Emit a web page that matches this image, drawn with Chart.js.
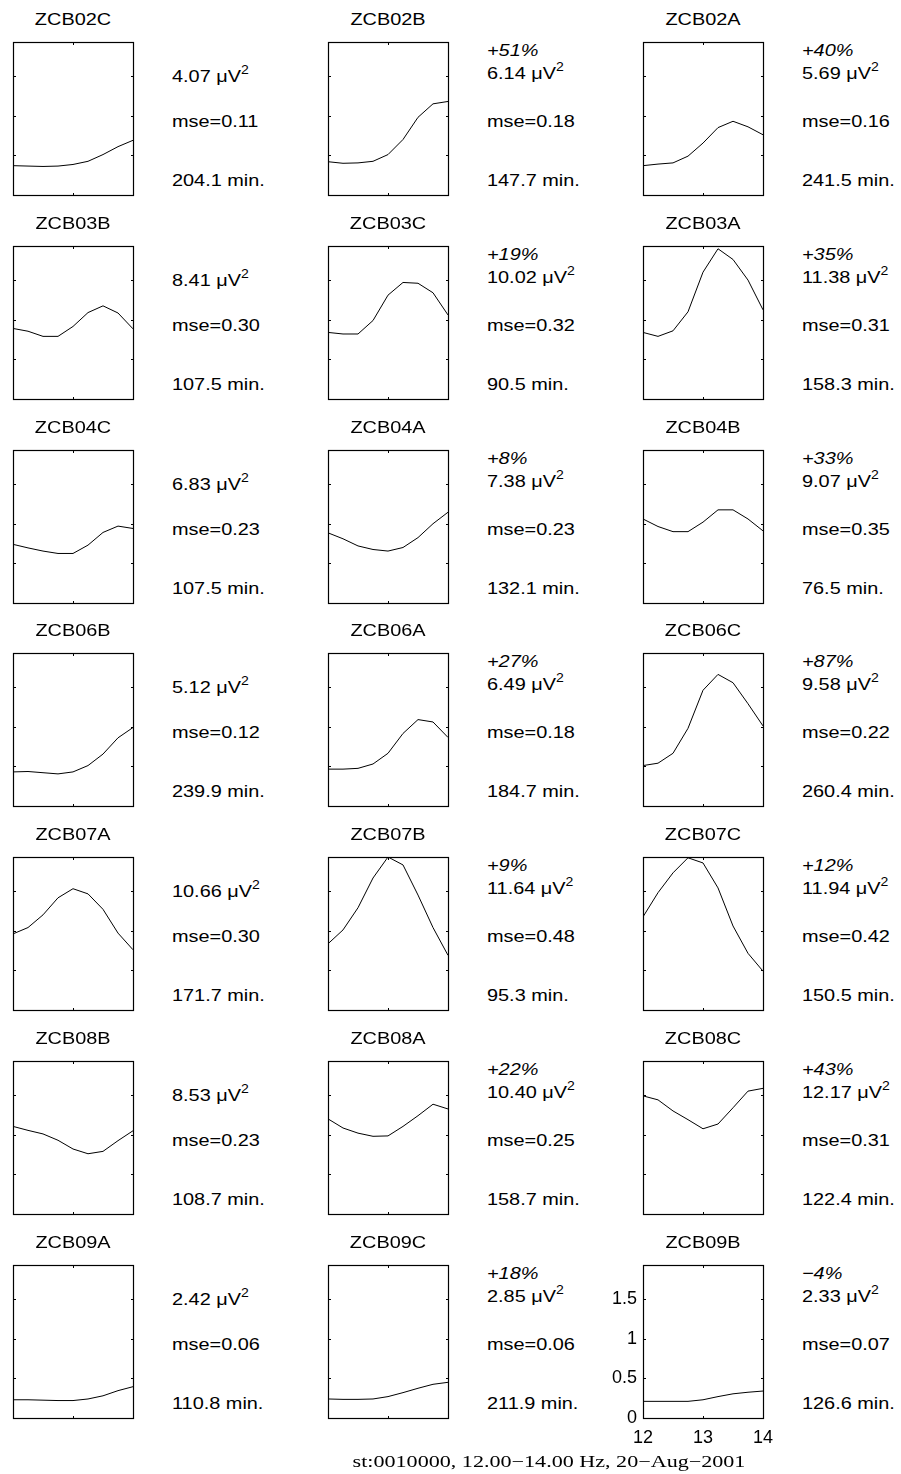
<!DOCTYPE html>
<html>
<head>
<meta charset="utf-8">
<script src="https://cdn.jsdelivr.net/npm/chart.js@4.4.1/dist/chart.umd.min.js"></script>
<style>
  body { margin: 0; background: #fff; }
  #page { position: relative; width: 901px; height: 1474px; overflow: hidden; background: #fff; }
  canvas.panel { position: absolute; }
  .lbl { position: absolute; white-space: nowrap; color: #000; line-height: 1; font-family: "Liberation Sans", Arial, Helvetica, sans-serif; }
  .sup { position: relative; font-size: 12px; top: -8px; }
</style>
</head>
<body>
<div id="page"></div>
<script>
// frequency bins (Hz)
const freqs = [12, 12.25, 12.5, 12.75, 13, 13.25, 13.5, 13.75, 14];

// spectra per recording, read row by row
const zcb02c = [0.37, 0.365, 0.36, 0.365, 0.385, 0.425, 0.51, 0.61, 0.69];
const zcb02b = [0.42, 0.40, 0.405, 0.425, 0.51, 0.70, 0.98, 1.15, 1.18];
const zcb02a = [0.37, 0.39, 0.405, 0.49, 0.655, 0.85, 0.93, 0.86, 0.76];
const zcb03b = [0.89, 0.855, 0.79, 0.79, 0.915, 1.09, 1.175, 1.085, 0.885];
const zcb03c = [0.84, 0.82, 0.82, 0.99, 1.31, 1.47, 1.46, 1.34, 1.06];
const zcb03a = [0.84, 0.79, 0.86, 1.10, 1.60, 1.895, 1.76, 1.50, 1.125];
const zcb04c = [0.74, 0.695, 0.655, 0.625, 0.625, 0.73, 0.89, 0.97, 0.94];
const zcb04a = [0.885, 0.81, 0.72, 0.675, 0.655, 0.70, 0.825, 1.00, 1.145];
const zcb04b = [1.06, 0.965, 0.90, 0.90, 1.02, 1.175, 1.175, 1.06, 0.91];
const zcb06b = [0.43, 0.435, 0.42, 0.405, 0.43, 0.51, 0.655, 0.86, 0.99];
const zcb06a = [0.465, 0.465, 0.475, 0.53, 0.665, 0.915, 1.09, 1.06, 0.865];
const zcb06c = [0.51, 0.54, 0.665, 0.98, 1.46, 1.66, 1.555, 1.29, 1.01];
const zcb07a = [0.96, 1.04, 1.20, 1.415, 1.53, 1.465, 1.27, 0.97, 0.76];
const zcb07b = [0.835, 1.01, 1.29, 1.665, 1.93, 1.83, 1.45, 1.04, 0.69];
const zcb07c = [1.175, 1.48, 1.73, 1.92, 1.855, 1.54, 1.06, 0.715, 0.49];
const zcb08b = [1.105, 1.055, 1.01, 0.93, 0.82, 0.76, 0.79, 0.925, 1.05];
const zcb08a = [1.20, 1.085, 1.02, 0.98, 0.985, 1.105, 1.24, 1.385, 1.325];
const zcb08c = [1.49, 1.44, 1.30, 1.19, 1.075, 1.135, 1.34, 1.55, 1.585];
const zcb09a = [0.23, 0.23, 0.225, 0.22, 0.22, 0.24, 0.28, 0.345, 0.395];
const zcb09c = [0.24, 0.235, 0.235, 0.24, 0.27, 0.32, 0.375, 0.425, 0.45];
const zcb09b = [0.21, 0.21, 0.21, 0.21, 0.23, 0.27, 0.305, 0.325, 0.34];

const names = ["ZCB02C", "ZCB02B", "ZCB02A", "ZCB03B", "ZCB03C", "ZCB03A",
               "ZCB04C", "ZCB04A", "ZCB04B", "ZCB06B", "ZCB06A", "ZCB06C",
               "ZCB07A", "ZCB07B", "ZCB07C", "ZCB08B", "ZCB08A", "ZCB08C",
               "ZCB09A", "ZCB09C", "ZCB09B"];
const spectra = [zcb02c, zcb02b, zcb02a, zcb03b, zcb03c, zcb03a,
                 zcb04c, zcb04a, zcb04b, zcb06b, zcb06a, zcb06c,
                 zcb07a, zcb07b, zcb07c, zcb08b, zcb08a, zcb08c,
                 zcb09a, zcb09c, zcb09b];
const powers = ["4.07", "6.14", "5.69", "8.41", "10.02", "11.38",
                "6.83", "7.38", "9.07", "5.12", "6.49", "9.58",
                "10.66", "11.64", "11.94", "8.53", "10.40", "12.17",
                "2.42", "2.85", "2.33"];
const changes = ["", "+51%", "+40%", "", "+19%", "+35%",
                 "", "+8%", "+33%", "", "+27%", "+87%",
                 "", "+9%", "+12%", "", "+22%", "+43%",
                 "", "+18%", "\u22124%"];
const mse = ["0.11", "0.18", "0.16", "0.30", "0.32", "0.31",
             "0.23", "0.23", "0.35", "0.12", "0.18", "0.22",
             "0.30", "0.48", "0.42", "0.23", "0.25", "0.31",
             "0.06", "0.06", "0.07"];
const durations = ["204.1", "147.7", "241.5", "107.5", "90.5", "158.3",
                   "107.5", "132.1", "76.5", "239.9", "184.7", "260.4",
                   "171.7", "95.3", "150.5", "108.7", "158.7", "122.4",
                   "110.8", "211.9", "126.6"];
const yTicks = [0, 0.5, 1, 1.5];
const xTicks = [12, 13, 14];
const yMax = 1.93;
const caption = "st:0010000, 12.00\u221214.00 Hz, 20\u2212Aug\u22122001";

// layout of the grid
const colLeft = [13, 328, 643];
const rowTop = [42, 246, 450, 653, 857, 1061, 1265];
const boxW = 120, boxH = 153;
const axisW = 48, axisH = 36, padR = 16;
const stretch = 1.17;

const page = document.getElementById("page");

// box outline plus small inward ticks, MATLAB style
const boxPlugin = {
  id: "box",
  afterDatasetsDraw(chart) {
    const { ctx, chartArea: a, scales } = chart;
    ctx.save();
    ctx.strokeStyle = "#000";
    ctx.lineWidth = 1;
    ctx.beginPath();
    const L = a.left + 0.5, R = a.right + 0.5, T = a.top + 0.5, B = a.bottom + 0.5;
    scales.y.ticks.forEach(t => {
      if (t.value <= 0 || t.value >= yMax) return;
      const y = Math.round(scales.y.getPixelForValue(t.value)) + 0.5;
      ctx.moveTo(L, y); ctx.lineTo(L + 2.5, y);
      ctx.moveTo(R, y); ctx.lineTo(R - 2.5, y);
    });
    scales.x.ticks.forEach(t => {
      if (t.value <= 12 || t.value >= 14) return;
      const x = Math.round(scales.x.getPixelForValue(t.value)) + 0.5;
      ctx.moveTo(x, T); ctx.lineTo(x, T + 2.5);
      ctx.moveTo(x, B); ctx.lineTo(x, B - 2.5);
    });
    ctx.stroke();
    ctx.lineWidth = 1.2;
    ctx.strokeRect(L, T, a.right - a.left, a.bottom - a.top);
    ctx.restore();
  }
};

// fixed axis sizes so every panel box lands on the same grid
function fixSize(s, w, h) {
  if (w !== null) s.width = w;
  if (h !== null) s.height = h;
  s.paddingLeft = 0; s.paddingRight = 0; s.paddingTop = 0; s.paddingBottom = 0;
}

function addText(html, x, baseline, opts) {
  const size = opts.size || 17;
  const el = document.createElement("div");
  el.className = "lbl";
  el.innerHTML = html;
  el.style.fontSize = size + "px";
  if (opts.family) el.style.fontFamily = opts.family;
  if (opts.italic) el.style.fontStyle = "italic";
  const asc = opts.asc || 0.8465;
  el.style.top = (baseline - asc * size) + "px";
  const sx = opts.stretch || stretch;
  if (opts.center) {
    el.style.left = (x - 200) + "px";
    el.style.width = "400px";
    el.style.textAlign = "center";
    el.style.transformOrigin = "50% 0";
  } else {
    el.style.left = x + "px";
    el.style.transformOrigin = "0 0";
  }
  el.style.transform = "scaleX(" + sx + ")";
  page.appendChild(el);
}

names.forEach((name, i) => {
  const row = Math.floor(i / 3), col = i % 3;
  const left = colLeft[col], top = rowTop[row];
  const showTicks = i === names.length - 1;

  const cv = document.createElement("canvas");
  cv.className = "panel";
  cv.width = axisW + boxW + padR;
  cv.height = 2 + boxH + axisH;
  cv.style.left = (left - axisW) + "px";
  cv.style.top = (top - 2) + "px";
  page.appendChild(cv);

  const tickFont = { family: "'Liberation Sans', Arial, sans-serif", size: 18 };

  new Chart(cv, {
    type: "line",
    data: {
      datasets: [{
        data: freqs.map((f, k) => ({ x: f, y: spectra[i][k] })),
        borderColor: "#000",
        borderWidth: 1,
        pointRadius: 0,
        tension: 0,
        fill: false
      }]
    },
    options: {
      animation: false,
      responsive: false,
      devicePixelRatio: 1,
      layout: { padding: { top: 2, right: padR, left: 0, bottom: 0 } },
      plugins: { legend: { display: false }, tooltip: { enabled: false } },
      scales: {
        x: {
          type: "linear", min: xTicks[0], max: xTicks[xTicks.length - 1],
          afterBuildTicks: s => { s.ticks = xTicks.map(v => ({ value: v })); },
          ticks: { display: showTicks, color: "#000", font: tickFont, padding: 9, maxRotation: 0, callback: v => String(v) },
          grid: { display: false, drawTicks: false },
          border: { display: false },
          afterFit: s => fixSize(s, null, axisH)
        },
        y: {
          type: "linear", min: 0, max: yMax,
          afterBuildTicks: s => { s.ticks = yTicks.map(v => ({ value: v })); },
          ticks: { display: showTicks, color: "#000", font: tickFont, padding: 6, callback: v => String(v) },
          grid: { display: false, drawTicks: false },
          border: { display: false },
          afterFit: s => fixSize(s, axisW, null)
        }
      }
    },
    plugins: [boxPlugin]
  });

  const cx = left + boxW / 2;
  const tx = left + boxW + 38.5;
  addText(name, cx, top - 17, { center: true });
  if (changes[i]) addText(changes[i], tx, top + 14, { italic: true });
  addText(powers[i] + " \u03bcV<span class=\"sup\">2</span>", tx, top + (changes[i] ? 37 : 40), {});
  addText("mse=" + mse[i], tx, top + 85.5, {});
  addText(durations[i] + " min.", tx, top + 144, {});
});

addText(caption, 549, 1467, { center: true, family: "'Liberation Serif', 'Times New Roman', serif", size: 17, asc: 0.8375, stretch: 1.3 });
</script>
</body>
</html>
